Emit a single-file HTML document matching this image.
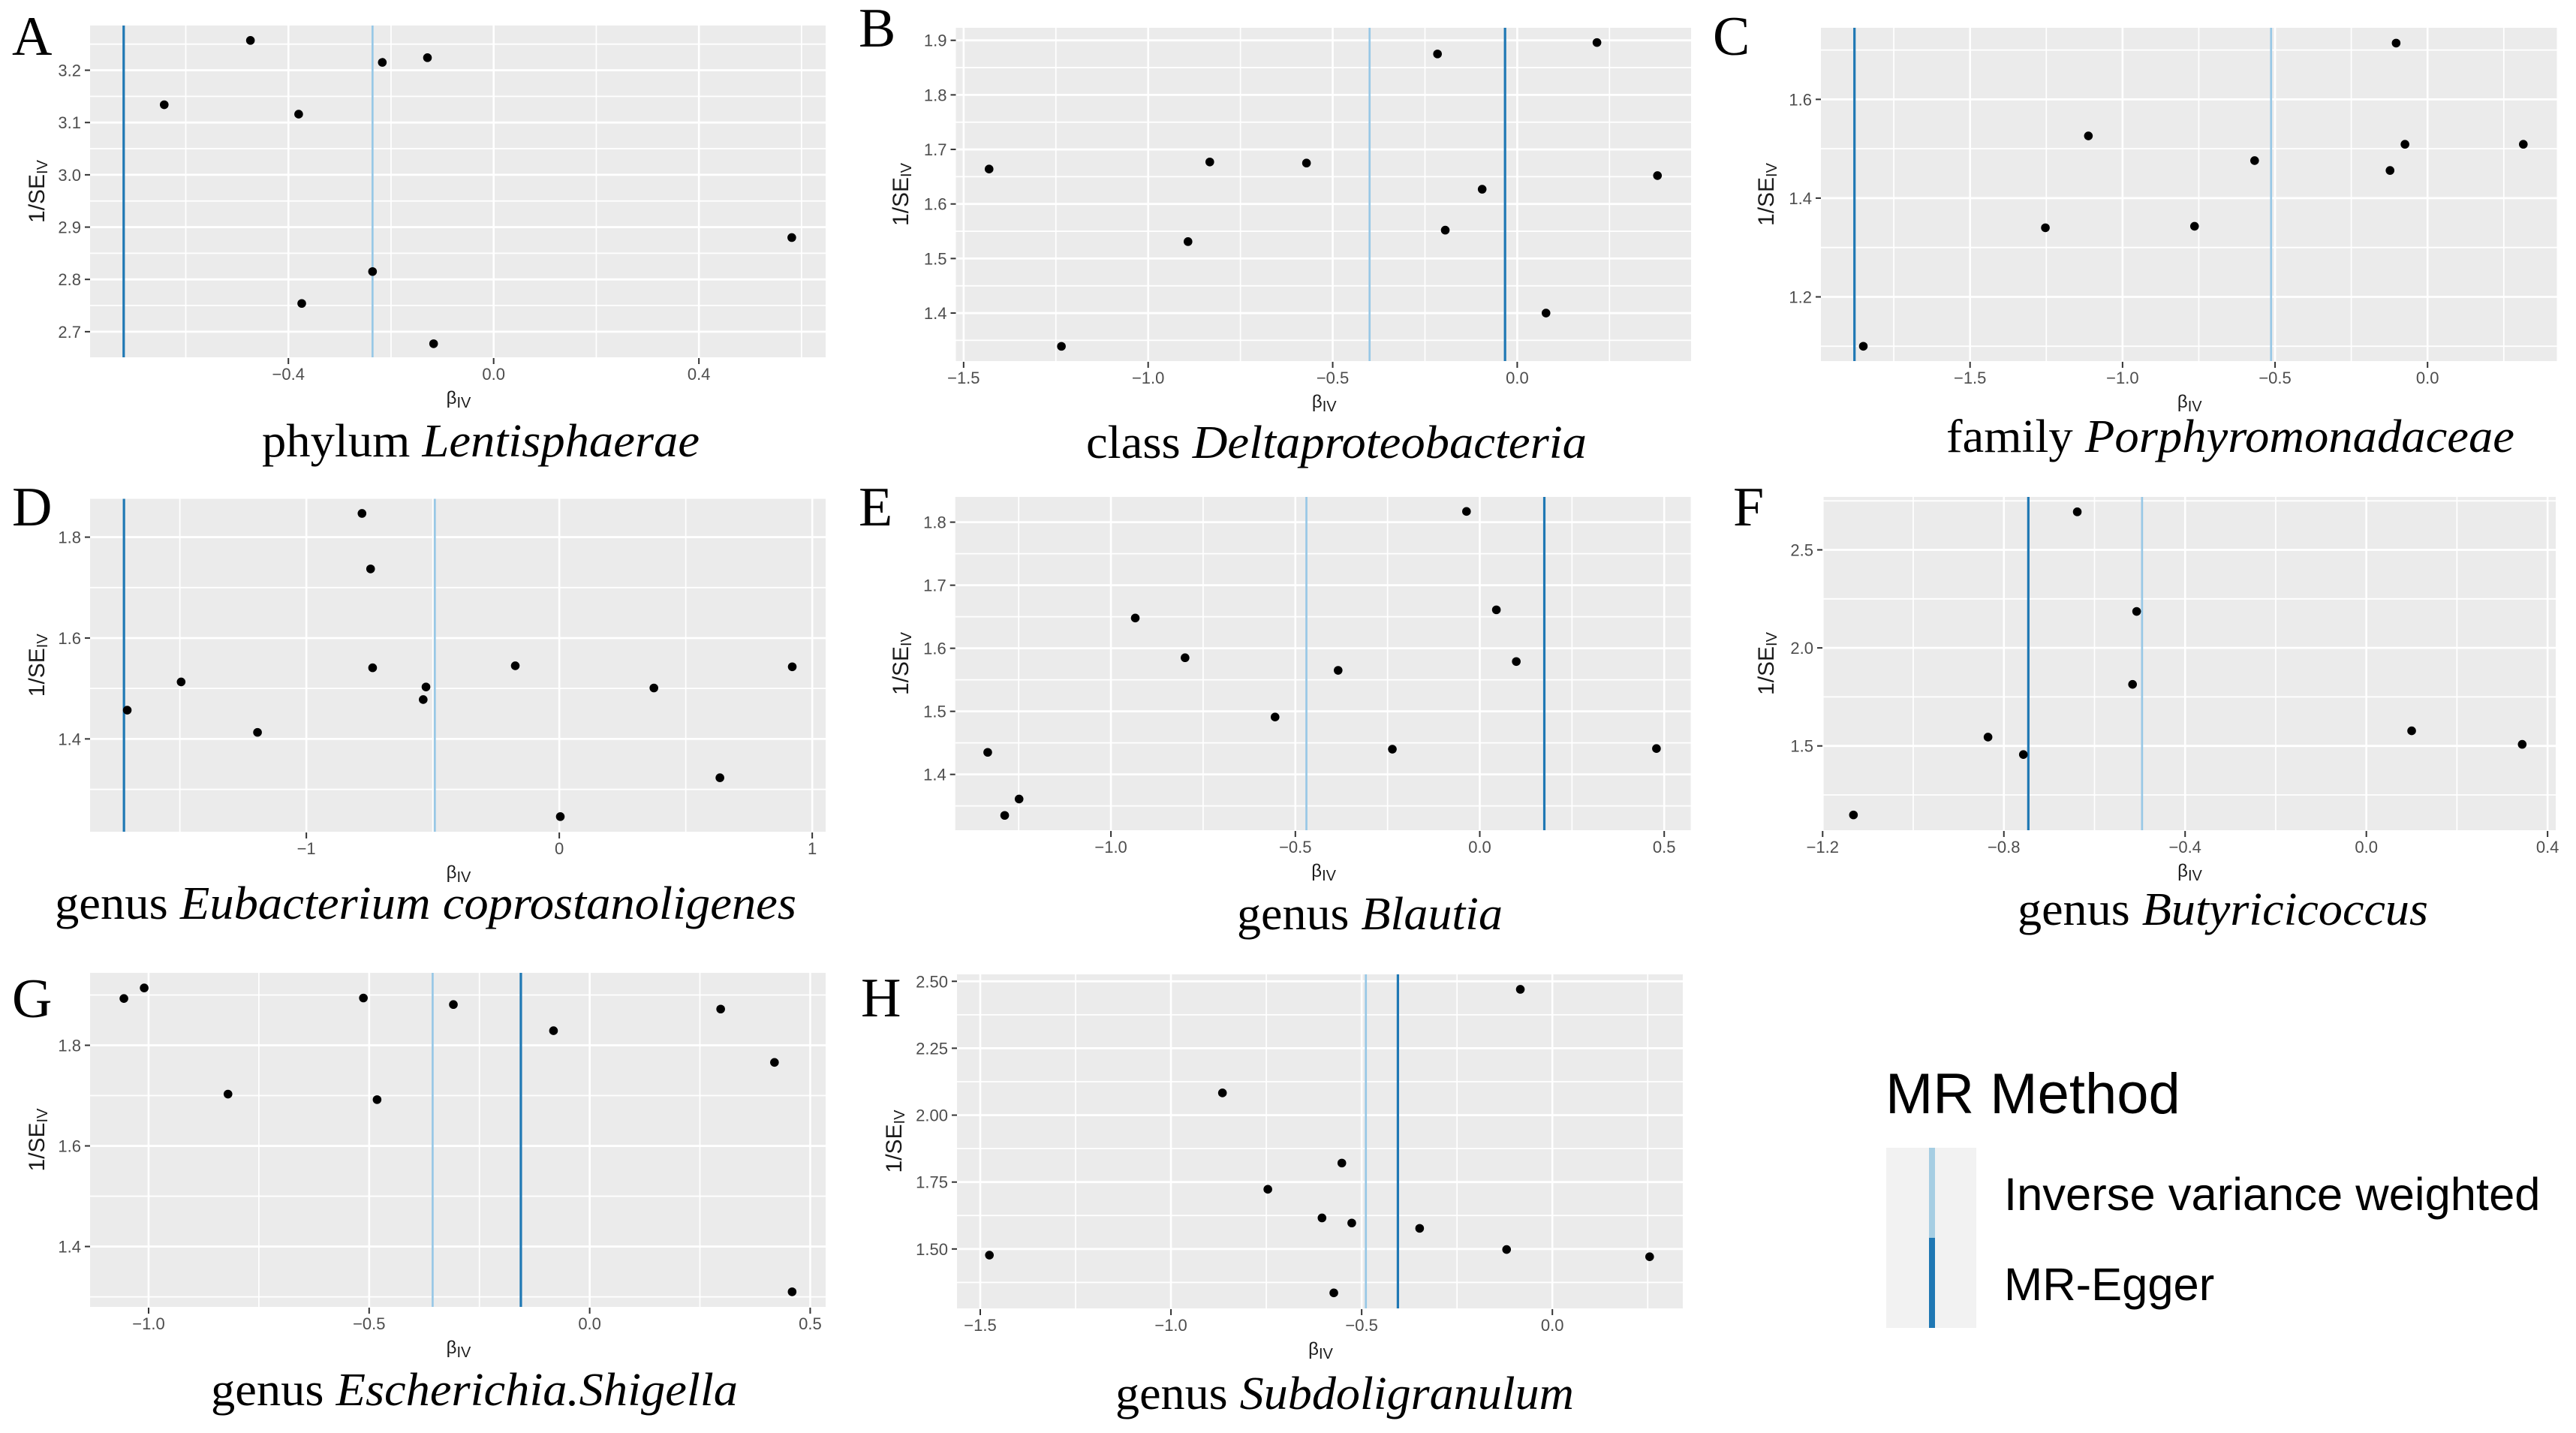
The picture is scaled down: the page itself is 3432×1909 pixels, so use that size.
<!DOCTYPE html>
<html>
<head>
<meta charset="utf-8">
<title>MR funnel plots</title>
<style>
html,body{margin:0;padding:0;background:#fff}
svg{display:block}
.cap{font-family:"Liberation Serif",serif;font-size:62px;fill:#000}
.letter{font-family:"Liberation Serif",serif;font-size:74px;fill:#000}
.leg{font-family:"Liberation Sans",sans-serif;fill:#000}
.tick{font-family:"Liberation Sans",sans-serif;font-size:22px;fill:#4d4d4d}
.title{font-family:"Liberation Sans",sans-serif;fill:#1a1a1a}
</style>
</head>
<body>
<svg id="figure" xmlns="http://www.w3.org/2000/svg" width="3432" height="1909" viewBox="0 0 3432 1909">
  <rect width="3432" height="1909" fill="#fff"/>
  <g id="plots"></g>

  <text class="letter" x="16" y="73">A</text>
  <text class="letter" x="1144" y="62">B</text>
  <text class="letter" x="2282" y="73">C</text>
  <text class="letter" x="16" y="700">D</text>
  <text class="letter" x="1144" y="700">E</text>
  <text class="letter" x="2309" y="700">F</text>
  <text class="letter" x="16" y="1355">G</text>
  <text class="letter" x="1147" y="1354">H</text>

  <text class="cap" x="349" y="608" textLength="583" lengthAdjust="spacingAndGlyphs">phylum <tspan font-style="italic">Lentisphaerae</tspan></text>
  <text class="cap" x="1447" y="610" textLength="667" lengthAdjust="spacingAndGlyphs">class <tspan font-style="italic">Deltaproteobacteria</tspan></text>
  <text class="cap" x="2593" y="602" textLength="757" lengthAdjust="spacingAndGlyphs">family <tspan font-style="italic">Porphyromonadaceae</tspan></text>
  <text class="cap" x="73" y="1224" textLength="988" lengthAdjust="spacingAndGlyphs">genus <tspan font-style="italic">Eubacterium coprostanoligenes</tspan></text>
  <text class="cap" x="1648" y="1238" textLength="354" lengthAdjust="spacingAndGlyphs">genus <tspan font-style="italic">Blautia</tspan></text>
  <text class="cap" x="2688" y="1232" textLength="547" lengthAdjust="spacingAndGlyphs">genus <tspan font-style="italic">Butyricicoccus</tspan></text>
  <text class="cap" x="281" y="1872" textLength="702" lengthAdjust="spacingAndGlyphs">genus <tspan font-style="italic">Escherichia.Shigella</tspan></text>
  <text class="cap" x="1486" y="1877" textLength="611" lengthAdjust="spacingAndGlyphs">genus <tspan font-style="italic">Subdoligranulum</tspan></text>

  <g>
    <text class="leg" x="2512" y="1483" font-size="76">MR Method</text>
    <rect x="2513" y="1529" width="120" height="120" fill="#f2f2f2"/>
    <rect x="2513" y="1649" width="120" height="120" fill="#f2f2f2"/>
    <rect x="2570" y="1529" width="8" height="120" fill="#a6cee3"/>
    <rect x="2570" y="1649" width="8" height="120" fill="#1f78b4"/>
    <text class="leg" x="2670" y="1612" font-size="61.5">Inverse variance weighted</text>
    <text class="leg" x="2670" y="1732" font-size="61.5">MR-Egger</text>
  </g>
</svg>

<script>
// Panel A - phylum Lentisphaerae
const panelA_beta = [-0.474, -0.642, -0.380, -0.217, -0.129, -0.236, -0.374, -0.117, 0.581];
const panelA_inverseSE = [3.257, 3.134, 3.116, 3.215, 3.224, 2.815, 2.754, 2.677, 2.880];
const panelA_xTicks = [-0.4, 0, 0.4];
const panelA_xLabels = ["\u22120.4", "0.0", "0.4"];
const panelA_yTicks = [2.7, 2.8, 2.9, 3.0, 3.1, 3.2];
const panelA_yLabels = ["2.7", "2.8", "2.9", "3.0", "3.1", "3.2"];
const panelA_ivw = -0.236;
const panelA_egger = -0.721;

// Panel B - class Deltaproteobacteria
const panelB_beta = [-1.431, -1.235, -0.892, -0.833, -0.571, -0.216, -0.195, -0.095, 0.078, 0.216, 0.380];
const panelB_inverseSE = [1.664, 1.339, 1.531, 1.677, 1.675, 1.875, 1.552, 1.627, 1.400, 1.896, 1.652];
const panelB_xTicks = [-1.5, -1, -0.5, 0];
const panelB_xLabels = ["\u22121.5", "\u22121.0", "\u22120.5", "0.0"];
const panelB_yTicks = [1.4, 1.5, 1.6, 1.7, 1.8, 1.9];
const panelB_yLabels = ["1.4", "1.5", "1.6", "1.7", "1.8", "1.9"];
const panelB_ivw = -0.400;
const panelB_egger = -0.033;

// Panel C - family Porphyromonadaceae
const panelC_beta = [-1.850, -1.253, -1.112, -0.764, -0.567, -0.123, -0.103, -0.074, 0.314];
const panelC_inverseSE = [1.100, 1.340, 1.526, 1.343, 1.476, 1.456, 1.714, 1.509, 1.509];
const panelC_xTicks = [-1.5, -1, -0.5, 0];
const panelC_xLabels = ["\u22121.5", "\u22121.0", "\u22120.5", "0.0"];
const panelC_yTicks = [1.2, 1.4, 1.6];
const panelC_yLabels = ["1.2", "1.4", "1.6"];
const panelC_ivw = -0.513;
const panelC_egger = -1.879;

// Panel D - genus Eubacterium coprostanoligenes
const panelD_beta = [-1.708, -1.495, -1.193, -0.780, -0.746, -0.738, -0.538, -0.527, -0.174, 0.004, 0.374, 0.635, 0.921];
const panelD_inverseSE = [1.457, 1.513, 1.413, 1.847, 1.737, 1.541, 1.478, 1.503, 1.545, 1.246, 1.501, 1.323, 1.543];
const panelD_xTicks = [-1, 0, 1];
const panelD_xLabels = ["\u22121", "0", "1"];
const panelD_yTicks = [1.4, 1.6, 1.8];
const panelD_yLabels = ["1.4", "1.6", "1.8"];
const panelD_ivw = -0.492;
const panelD_egger = -1.721;

// Panel E - genus Blautia
const panelE_beta = [-1.334, -1.288, -1.249, -0.934, -0.799, -0.555, -0.384, -0.237, -0.036, 0.045, 0.099, 0.479];
const panelE_inverseSE = [1.435, 1.335, 1.361, 1.648, 1.585, 1.491, 1.565, 1.440, 1.817, 1.661, 1.579, 1.441];
const panelE_xTicks = [-1, -0.5, 0, 0.5];
const panelE_xLabels = ["\u22121.0", "\u22120.5", "0.0", "0.5"];
const panelE_yTicks = [1.4, 1.5, 1.6, 1.7, 1.8];
const panelE_yLabels = ["1.4", "1.5", "1.6", "1.7", "1.8"];
const panelE_ivw = -0.470;
const panelE_egger = 0.175;

// Panel F - genus Butyricicoccus
const panelF_beta = [-1.132, -0.835, -0.757, -0.638, -0.516, -0.507, 0.100, 0.344];
const panelF_inverseSE = [1.148, 1.545, 1.456, 2.694, 1.814, 2.186, 1.577, 1.508];
const panelF_xTicks = [-1.2, -0.8, -0.4, 0, 0.4];
const panelF_xLabels = ["\u22121.2", "\u22120.8", "\u22120.4", "0.0", "0.4"];
const panelF_yTicks = [1.5, 2.0, 2.5];
const panelF_yLabels = ["1.5", "2.0", "2.5"];
const panelF_ivw = -0.495;
const panelF_egger = -0.746;

// Panel G - genus Escherichia.Shigella
const panelG_beta = [-1.056, -1.010, -0.820, -0.513, -0.482, -0.309, -0.082, 0.297, 0.419, 0.459];
const panelG_inverseSE = [1.893, 1.914, 1.703, 1.894, 1.692, 1.881, 1.829, 1.872, 1.766, 1.310];
const panelG_xTicks = [-1, -0.5, 0, 0.5];
const panelG_xLabels = ["\u22121.0", "\u22120.5", "0.0", "0.5"];
const panelG_yTicks = [1.4, 1.6, 1.8];
const panelG_yLabels = ["1.4", "1.6", "1.8"];
const panelG_ivw = -0.356;
const panelG_egger = -0.156;

// Panel H - genus Subdoligranulum
const panelH_beta = [-1.476, -0.865, -0.746, -0.604, -0.573, -0.552, -0.526, -0.348, -0.120, -0.084, 0.255];
const panelH_inverseSE = [1.477, 2.083, 1.723, 1.616, 1.336, 1.821, 1.597, 1.577, 1.498, 2.470, 1.471];
const panelH_xTicks = [-1.5, -1, -0.5, 0];
const panelH_xLabels = ["\u22121.5", "\u22121.0", "\u22120.5", "0.0"];
const panelH_yTicks = [1.5, 1.75, 2.0, 2.25, 2.5];
const panelH_yLabels = ["1.50", "1.75", "2.00", "2.25", "2.50"];
const panelH_ivw = -0.489;
const panelH_egger = -0.405;

const SVGNS = "http://www.w3.org/2000/svg";
const IVW_COLOR = "#98c8e6";
const EGGER_COLOR = "#1f78b4";

function make(tag, attrs, parent) {
  const el = document.createElementNS(SVGNS, tag);
  for (const k in attrs) el.setAttribute(k, attrs[k]);
  parent.appendChild(el);
  return el;
}

function drawPanel(p) {
  const root = document.getElementById("plots");
  const g = make("g", {}, root);
  
  

  const sx = v => p.left + (v - p.xMin) / (p.xMax - p.xMin) * (p.right - p.left);
  const sy = v => p.bottom - (v - p.yMin) / (p.yMax - p.yMin) * (p.bottom - p.top);

  const bg = make("rect", {x: p.left, y: p.top, width: p.right - p.left, height: p.bottom - p.top, fill: "#ebebeb"}, g);
  
  

  // minor grid: halfway between major ticks, extended over the domain
  const xStep = p.xTicks[1] - p.xTicks[0];
  for (let v = p.xTicks[0] - xStep / 2; v < p.xMax; v += xStep) {
    if (v <= p.xMin) continue;
    const l = make("line", {x1: sx(v), x2: sx(v), y1: p.top, y2: p.bottom, stroke: "#fff", "stroke-width": 1.7}, g);
    
    
  }
  const yStep = p.yTicks[1] - p.yTicks[0];
  for (let v = p.yTicks[0] - yStep / 2; v < p.yMax; v += yStep) {
    if (v <= p.yMin) continue;
    const l = make("line", {x1: p.left, x2: p.right, y1: sy(v), y2: sy(v), stroke: "#fff", "stroke-width": 1.8}, g);
    
    
  }

  // major grid, ticks and tick labels
  p.xTicks.forEach((v, i) => {
    const l = make("line", {x1: sx(v), x2: sx(v), y1: p.top, y2: p.bottom, stroke: "#fff", "stroke-width": 2.6}, g);
    
    
    const t = make("line", {x1: sx(v), x2: sx(v), y1: p.bottom + 1, y2: p.bottom + 9, stroke: "#333", "stroke-width": 2}, g);
    
    
    const s = make("text", {x: sx(v), y: p.bottom + 30, "text-anchor": "middle", class: "tick"}, g);
    
    
    s.textContent = p.xLabels[i];
  });
  p.yTicks.forEach((v, i) => {
    const l = make("line", {x1: p.left, x2: p.right, y1: sy(v), y2: sy(v), stroke: "#fff", "stroke-width": 2.8}, g);
    
    
    const t = make("line", {x1: p.left - 7, x2: p.left, y1: sy(v), y2: sy(v), stroke: "#333", "stroke-width": 2}, g);
    
    
    const s = make("text", {x: p.left - 12, y: sy(v) + 8, "text-anchor": "end", class: "tick"}, g);
    
    
    s.textContent = p.yLabels[i];
  });

  // method lines
  const ivw = make("line", {x1: sx(p.ivw), x2: sx(p.ivw), y1: p.top, y2: p.bottom, stroke: IVW_COLOR, "stroke-width": 2.7}, g);
  
  
  const egger = make("line", {x1: sx(p.egger), x2: sx(p.egger), y1: p.top, y2: p.bottom, stroke: EGGER_COLOR, "stroke-width": 3.2}, g);
  
  

  // points
  p.beta.forEach((b, i) => {
    const c = make("circle", {cx: sx(b), cy: sy(p.inverseSE[i]), r: 5.8, fill: "#000"}, g);
    
    
  });

  // axis titles
  const xt = make("text", {x: (p.left + p.right) / 2 + 1, y: p.bottom + 62, "text-anchor": "middle", class: "title", "font-size": 24}, g);
  
  
  const xb = make("tspan", {}, xt);
  xb.textContent = "\u03B2";
  const xs = make("tspan", {"font-size": 20, dy: 5}, xt);
  xs.textContent = "IV";

  const mid = (p.top + p.bottom) / 2;
  const yt = make("text", {transform: "translate(" + p.yTitleX + "," + mid + ") rotate(-90)", "text-anchor": "middle", class: "title", "font-size": 30}, g);
  
  
  const yb = make("tspan", {}, yt);
  yb.textContent = "1/SE";
  const ys = make("tspan", {"font-size": 20, dy: 4}, yt);
  ys.textContent = "IV";
}

drawPanel({id: "a", left: 120, right: 1100, top: 34, bottom: 476, xMin: -0.7865, xMax: 0.647, yMin: 2.651, yMax: 3.2855,
  beta: panelA_beta, inverseSE: panelA_inverseSE, xTicks: panelA_xTicks, xLabels: panelA_xLabels, yTicks: panelA_yTicks, yLabels: panelA_yLabels, ivw: panelA_ivw, egger: panelA_egger, yTitleX: 59});
drawPanel({id: "b", left: 1273.5, right: 2253, top: 37, bottom: 481, xMin: -1.521, xMax: 0.471, yMin: 1.312, yMax: 1.923,
  beta: panelB_beta, inverseSE: panelB_inverseSE, xTicks: panelB_xTicks, xLabels: panelB_xLabels, yTicks: panelB_yTicks, yLabels: panelB_yLabels, ivw: panelB_ivw, egger: panelB_egger, yTitleX: 1210});
drawPanel({id: "c", left: 2426, right: 3406.5, top: 37, bottom: 481, xMin: -1.989, xMax: 0.424, yMin: 1.070, yMax: 1.745,
  beta: panelC_beta, inverseSE: panelC_inverseSE, xTicks: panelC_xTicks, xLabels: panelC_xLabels, yTicks: panelC_yTicks, yLabels: panelC_yLabels, ivw: panelC_ivw, egger: panelC_egger, yTitleX: 2363});
drawPanel({id: "d", left: 120, right: 1100, top: 664.5, bottom: 1108, xMin: -1.855, xMax: 1.053, yMin: 1.216, yMax: 1.876,
  beta: panelD_beta, inverseSE: panelD_inverseSE, xTicks: panelD_xTicks, xLabels: panelD_xLabels, yTicks: panelD_yTicks, yLabels: panelD_yLabels, ivw: panelD_ivw, egger: panelD_egger, yTitleX: 59});
drawPanel({id: "e", left: 1272.7, right: 2252.6, top: 662, bottom: 1106, xMin: -1.422, xMax: 0.572, yMin: 1.3115, yMax: 1.840,
  beta: panelE_beta, inverseSE: panelE_inverseSE, xTicks: panelE_xTicks, xLabels: panelE_xLabels, yTicks: panelE_yTicks, yLabels: panelE_yLabels, ivw: panelE_ivw, egger: panelE_egger, yTitleX: 1210});
drawPanel({id: "f", left: 2428, right: 3405, top: 662, bottom: 1106, xMin: -1.2005, xMax: 0.418, yMin: 1.070, yMax: 2.770,
  beta: panelF_beta, inverseSE: panelF_inverseSE, xTicks: panelF_xTicks, xLabels: panelF_xLabels, yTicks: panelF_yTicks, yLabels: panelF_yLabels, ivw: panelF_ivw, egger: panelF_egger, yTitleX: 2363});
drawPanel({id: "g", left: 120, right: 1100, top: 1296, bottom: 1741, xMin: -1.1327, xMax: 0.535, yMin: 1.280, yMax: 1.944,
  beta: panelG_beta, inverseSE: panelG_inverseSE, xTicks: panelG_xTicks, xLabels: panelG_xLabels, yTicks: panelG_yTicks, yLabels: panelG_yLabels, ivw: panelG_ivw, egger: panelG_egger, yTitleX: 59});
drawPanel({id: "h", left: 1275, right: 2242, top: 1298, bottom: 1743, xMin: -1.561, xMax: 0.342, yMin: 1.278, yMax: 2.526,
  beta: panelH_beta, inverseSE: panelH_inverseSE, xTicks: panelH_xTicks, xLabels: panelH_xLabels, yTicks: panelH_yTicks, yLabels: panelH_yLabels, ivw: panelH_ivw, egger: panelH_egger, yTitleX: 1201});
</script>
</body>
</html>
